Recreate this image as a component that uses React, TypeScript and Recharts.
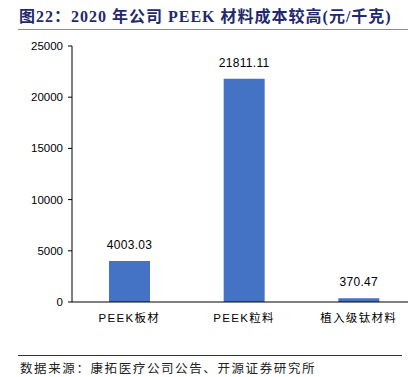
import React from 'react';
import { BarChart, Bar, XAxis, YAxis, LabelList } from 'recharts';

const categories = ['PEEK板材', 'PEEK粒料', '植入级钛材料'];
const costs = [4003.03, 21811.11, 370.47];
const yTicks = [0, 5000, 10000, 15000, 20000, 25000];

const data = categories.map((name, i) => ({ name, cost: costs[i] }));

const sans = 'Arial, "Liberation Sans", "Noto Sans CJK SC", sans-serif';

export default function App() {
  return (
    <div style={{ position: 'fixed', left: 0, top: 0, width: 408, height: 377, background: '#fff', overflow: 'hidden' }}>
      <div
        style={{
          position: 'absolute',
          left: 19,
          top: 3,
          fontFamily: '"Times New Roman", "Liberation Serif", "Noto Sans CJK SC", serif',
          fontWeight: 'bold',
          fontSize: 16,
          letterSpacing: 1,
          color: '#1F2A6B',
          whiteSpace: 'nowrap',
        }}
      >
        图22：2020 年公司 PEEK 材料成本较高(元/千克)
      </div>
      <div style={{ position: 'absolute', left: 18, top: 29, width: 390, height: 1, background: '#8c8c8c' }} />

      <div style={{ position: 'absolute', left: 0, top: 0 }}>
        <BarChart
          width={416}
          height={340}
          data={data}
          margin={{ top: 46, right: 0, bottom: 8, left: 0 }}
        >
          <YAxis
            width={72}
            domain={[0, 25000]}
            ticks={yTicks}
            interval={0}
            axisLine={{ stroke: '#000' }}
            tickLine={{ stroke: '#000' }}
            tickSize={4}
            tickMargin={5}
            tick={{ fill: '#000', fontSize: 11.5, fontFamily: sans }}
          />
          <XAxis
            dataKey="name"
            height={30}
            axisLine={{ stroke: '#000' }}
            tickLine={false}
            tickMargin={6}
            tick={{ fill: '#000', fontSize: 11.5, fontFamily: sans, letterSpacing: 1.3 }}
          />
          <Bar dataKey="cost" fill="#4472C4" barSize={41} isAnimationActive={false}>
            <LabelList
              dataKey="cost"
              position="top"
              offset={12}
              formatter={(v: number) => v.toFixed(2)}
              style={{ fill: '#000', fontSize: 12, fontFamily: sans, letterSpacing: 0.3 }}
            />
          </Bar>
        </BarChart>
      </div>

      <div style={{ position: 'absolute', left: 18, top: 355, width: 384, height: 1, background: '#333' }} />
      <div
        style={{
          position: 'absolute',
          left: 20,
          top: 361,
          fontFamily: '"Noto Sans CJK SC", sans-serif',
          fontSize: 12.5,
          lineHeight: '13px',
          letterSpacing: 1.6,
          color: '#222',
          whiteSpace: 'nowrap',
        }}
      >
        数据来源：康拓医疗公司公告、开源证券研究所
      </div>
    </div>
  );
}
